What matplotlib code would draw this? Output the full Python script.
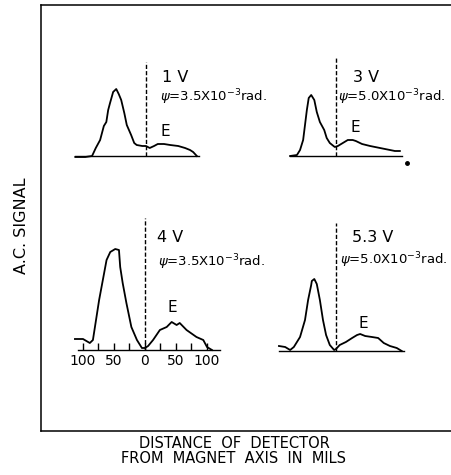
import matplotlib
matplotlib.use("Agg")
import matplotlib.pyplot as plt

plt.rcParams['font.family'] = ['DejaVu Sans']
plt.rcParams['mathtext.fontset'] = 'dejavusans'

W, H = 452, 475
PX = 0.62  # pixels per mil

# distance from magnet axis (mils) and a.c. signal (arb. units) for each run
dist_1v = [-114, -98, -87, -81, -74, -68, -64, -61, -58, -53, -48, -44, -40, -35, -31, -24, -19, -15,
           -6, 0, 6, 13, 19, 29, 39, 52, 63, 71, 76, 82]
sig_1v = [-1, -1, 0, 8, 16, 30, 34, 46, 53, 64, 67, 62, 56, 43, 31, 21, 13, 11,
          10, 10, 8, 10, 12, 12, 11, 10, 8, 6, 4, 0]

dist_3v = [-74, -63, -58, -53, -50, -47, -44, -40, -35, -31, -26, -19, -15, -10, -2, 3, 11, 19, 27,
           32, 42, 55, 71, 87, 95, 103]
sig_3v = [0, 1, 6, 16, 31, 46, 58, 61, 56, 44, 34, 26, 18, 13, 9, 10, 13, 16, 16,
          15, 12, 10, 8, 6, 5, 5]

dist_4v = [-113, -100, -89, -84, -82, -79, -74, -68, -62, -56, -48, -42, -40, -36, -30, -22, -13, -5,
           0, 5, 13, 24, 35, 43, 51, 56, 67, 83, 94, 100, 108]
sig_4v = [11, 11, 7, 10, 18, 30, 50, 70, 90, 98, 101, 100, 83, 67, 47, 23, 10, 2,
          2, 4, 10, 20, 23, 28, 25, 27, 20, 13, 10, 3, 0]

dist_53v = [-92, -82, -74, -68, -58, -50, -45, -40, -39, -35, -31, -26, -21, -16, -10, -3, 0, 6,
            16, 26, 34, 39, 47, 58, 68, 77, 87, 98, 106]
sig_53v = [5, 4, 1, 4, 14, 31, 51, 66, 70, 72, 67, 51, 31, 16, 6, 1, 2, 6,
           9, 13, 16, 17, 15, 14, 13, 8, 5, 3, 0]

volts = ["1 V", "3 V", "4 V", "5.3 V"]
psi = ["3.5", "5.0", "3.5", "5.0"]
baseline_ends = [(-114, 86), (-74, 106), (-108, 121), (-92, 110)]
dash_tops = [94, 98, 132, 128]

tick_pos = [-100, -75, -50, -25, 0, 25, 50, 75, 100]
tick_lab = ["100", "", "50", "", "0", "", "50", "", "100"]

fig = plt.figure(figsize=(W / 100, H / 100), dpi=100)

# outer frame
frame = fig.add_axes([41 / W, (H - 431) / H, 1 - 41 / W + 0.01, (431 - 5) / H])
frame.set_xticks([])
frame.set_yticks([])
frame.patch.set_visible(False)
for s in frame.spines.values():
    s.set_linewidth(1.1)
frame.spines['right'].set_visible(False)


def panel_ax(x0, y0):
    # x0: pixel column of zero mils, y0: pixel row of baseline
    ax = fig.add_axes([(x0 - 120 * PX) / W, (H - (y0 + 15)) / H, 245 * PX / W, 155 / H])
    ax.set_xlim(-120, 125)
    ax.set_ylim(-15, 140)
    ax.patch.set_visible(False)
    for s in ['top', 'right', 'left']:
        ax.spines[s].set_visible(False)
    ax.spines['bottom'].set_position(('data', 0))
    ax.spines['bottom'].set_linewidth(1.0)
    ax.set_xticks([])
    ax.set_yticks([])
    return ax


origins = [(146, 156), (336, 156), (145, 350), (336, 351)]
curves = [(dist_1v, sig_1v), (dist_3v, sig_3v), (dist_4v, sig_4v), (dist_53v, sig_53v)]
# text spots (mils, signal): volt label, psi label, E
volt_xy = [(26, 79), (27, 79), (19, 112), (25, 114)]
psi_xy = [(22, 59), (3, 59), (21, 88), (6, 91)]
e_xy = [(23, 25), (23, 28), (36, 42), (36, 28)]

for i in range(4):
    ax = panel_ax(*origins[i])
    d, s = curves[i]
    ax.plot(d, s, color='black', lw=1.3, solid_joinstyle='round', clip_on=False)
    ax.spines['bottom'].set_bounds(*baseline_ends[i])
    ax.vlines(0, 0, dash_tops[i], color='black', lw=1.0, linestyles=(0, (3, 1.5)))
    ax.text(volt_xy[i][0], volt_xy[i][1], volts[i], fontsize=11.5, va='center', ha='left')
    ax.text(psi_xy[i][0], psi_xy[i][1],
            r'$\psi$=' + psi[i] + 'X10$^{-3}$rad.', fontsize=9.5, va='center', ha='left')
    ax.text(e_xy[i][0], e_xy[i][1], "E", fontsize=11, va='center', ha='left')
    if i == 2:
        ax.set_xticks(tick_pos)
        ax.set_xticklabels(tick_lab, fontsize=10)
        ax.tick_params(axis='x', direction='in', length=5, width=1.0, pad=3)
    if i == 1:
        ax.plot([114], [-7], 'o', color='black', ms=2.5, clip_on=False)

fig.text(22 / W, 1 - 226 / H, "A.C. SIGNAL", rotation=90, fontsize=11.5, ha='center', va='center')
fig.text(234 / W, 1 - 451 / H, "DISTANCE  OF  DETECTOR\nFROM  MAGNET  AXIS  IN  MILS",
         fontsize=10.5, ha='center', va='center', multialignment='center', linespacing=0.95)

fig.savefig("out.png", dpi=100)
